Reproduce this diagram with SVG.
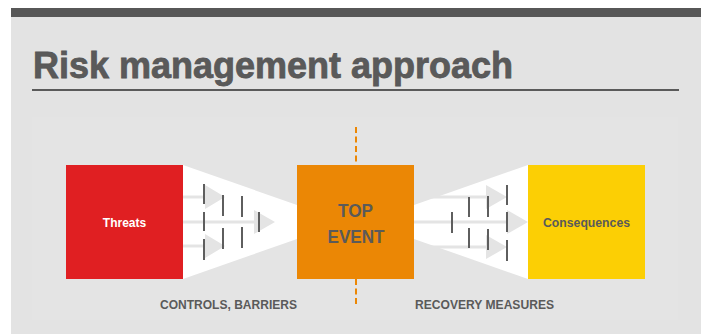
<svg xmlns="http://www.w3.org/2000/svg" width="706" height="334" viewBox="0 0 706 334">
<style>
.funnel{fill:#ffffff}
.ln{stroke:#e4e4e4;stroke-width:3;fill:none}
.tri{fill:#e4e4e4}
.bar{stroke:#5e5e5e;stroke-width:2;fill:none}
.lbl{font-family:"Liberation Sans",Arial,sans-serif;font-weight:bold;fill:#5a5a5a}
</style>
<rect x="0" y="0" width="706" height="334" fill="#ffffff"/>
<rect x="11" y="8" width="690" height="326" fill="#e3e3e3"/>
<rect x="11" y="8" width="690" height="9" fill="#575757"/>
<rect x="32" y="117" width="646" height="203" fill="#e4e4e4"/>
<text x="33" y="78" class="lbl" font-size="36" fill="#575757" stroke="#575757" stroke-width="0.8" textLength="480" lengthAdjust="spacingAndGlyphs">Risk management approach</text>
<rect x="32" y="89" width="647" height="2" fill="#5a5a5a"/>

<line x1="356" y1="127" x2="356" y2="306" stroke="#eb8705" stroke-width="2" stroke-dasharray="6 3.5"/>

<g id="connectors">
  <g id="controls">
    <polygon class="funnel" points="183,165 297,205 297,239 183,279"/>
    <line class="ln" x1="183" y1="197" x2="205" y2="197"/>
    <polygon class="tri" points="205,185 205,209 225,197"/>
    <line class="ln" x1="183" y1="222" x2="254" y2="222"/>
    <polygon class="tri" points="254,210 254,234 275,222"/>
    <line class="ln" x1="183" y1="246" x2="205" y2="246"/>
    <polygon class="tri" points="205,234 205,258 225,246"/>
    <line class="bar" x1="204" y1="184" x2="204" y2="204"/>
    <line class="bar" x1="204" y1="212" x2="204" y2="231"/>
    <line class="bar" x1="204" y1="239" x2="204" y2="260"/>
    <line class="bar" x1="223" y1="195" x2="223" y2="216"/>
    <line class="bar" x1="223" y1="228" x2="223" y2="249"/>
    <line class="bar" x1="242" y1="196" x2="242" y2="217"/>
    <line class="bar" x1="242" y1="227" x2="242" y2="248"/>
    <line class="bar" x1="259" y1="212" x2="259" y2="232"/>
  </g>
  <g id="recovery">
    <polygon class="funnel" points="414,205 528,165 528,279 414,239"/>
    <line class="ln" x1="414" y1="197" x2="486" y2="197"/>
    <polygon class="tri" points="486,185 486,209 507,197"/>
    <line class="ln" x1="414" y1="222" x2="507" y2="222"/>
    <polygon class="tri" points="507,210 507,234 528,222"/>
    <line class="ln" x1="414" y1="247" x2="486" y2="247"/>
    <polygon class="tri" points="486,235 486,259 507,247"/>
    <line class="bar" x1="452" y1="212" x2="452" y2="233"/>
    <line class="bar" x1="469" y1="197" x2="469" y2="217"/>
    <line class="bar" x1="469" y1="228" x2="469" y2="248"/>
    <line class="bar" x1="488" y1="196" x2="488" y2="217"/>
    <line class="bar" x1="488" y1="229" x2="488" y2="250"/>
    <line class="bar" x1="507" y1="185" x2="507" y2="205"/>
    <line class="bar" x1="507" y1="212" x2="507" y2="232"/>
    <line class="bar" x1="507" y1="240" x2="507" y2="261"/>
  </g>
</g>

<g id="threats">
  <rect x="66" y="165" width="117" height="114" fill="#e01f22"/>
  <text x="124.5" y="227" class="lbl" font-size="12" text-anchor="middle" style="fill:#ffffff">Threats</text>
</g>
<g id="top-event">
  <rect x="297" y="165" width="117" height="114" fill="#eb8705"/>
  <text x="355.5" y="217" class="lbl" font-size="18" text-anchor="middle" textLength="35" lengthAdjust="spacingAndGlyphs">TOP</text>
  <text x="356" y="243" class="lbl" font-size="18" text-anchor="middle" textLength="57" lengthAdjust="spacingAndGlyphs">EVENT</text>
</g>
<g id="consequences">
  <rect x="528" y="165" width="117" height="114" fill="#fccf04"/>
  <text x="586.5" y="227" class="lbl" font-size="12" text-anchor="middle" textLength="87" lengthAdjust="spacingAndGlyphs">Consequences</text>
</g>

<text x="228.5" y="309" class="lbl" font-size="12" text-anchor="middle" textLength="137" lengthAdjust="spacingAndGlyphs">CONTROLS, BARRIERS</text>
<text x="484.5" y="309" class="lbl" font-size="12" text-anchor="middle" textLength="139" lengthAdjust="spacingAndGlyphs">RECOVERY MEASURES</text>
</svg>
